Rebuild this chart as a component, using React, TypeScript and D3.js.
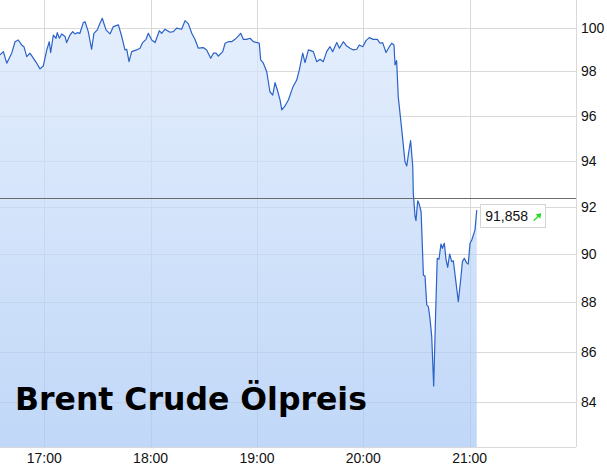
import * as d3 from 'd3';

// price samples, minutes after 16:00
const minutesAfter16 = [
  35.0, 36.9, 38.8, 41.6, 43.5, 45.3, 47.2, 48.5, 50.1, 51.9, 53.8, 55.7, 57.6, 59.4, 61.4, 62.8,
  63.6, 65.1, 66.6, 67.3, 68.5, 69.8, 71.7, 72.6, 74.5, 76.0, 77.3, 78.6, 80.1, 82.0, 83.0, 84.8,
  86.7, 88.0, 89.9, 91.0, 92.7, 94.8, 97.1, 98.9, 101.8, 103.7, 105.5, 106.5, 107.8, 109.3, 112.1, 114.0,
  115.5, 117.4, 118.7, 120.6, 122.5, 124.9, 126.2, 128.1, 130.9, 132.8, 134.7, 137.5, 139.4, 141.3, 143.2, 145.0,
  146.9, 149.7, 151.6, 153.9, 155.4, 156.9, 158.2, 160.7, 162.0, 163.8, 165.7, 167.6, 168.9, 170.8, 172.3, 174.2,
  176.1, 177.9, 180.2, 181.3, 182.1, 183.6, 185.5, 187.3, 188.9, 190.2, 191.5, 193.0, 194.0, 195.8, 197.7, 200.2,
  202.4, 203.9, 205.8, 207.1, 209.0, 211.8, 213.7, 215.6, 217.4, 219.3, 221.2, 222.7, 225.0, 226.5, 228.7, 230.6,
  232.5, 234.4, 236.3, 237.7, 239.7, 241.5, 243.4, 245.6, 247.9, 249.4, 250.9, 252.8, 254.7, 256.0, 257.3, 257.9,
  258.8, 259.7, 261.7, 263.5, 264.5, 265.8, 266.7, 267.9, 268.2, 269.2, 269.7, 270.7, 271.4, 272.6, 273.9, 274.8,
  275.8, 276.7, 277.6, 278.6, 279.7, 280.8, 281.7, 282.7, 283.8, 284.6, 285.7, 286.7, 287.6, 288.7, 289.9, 290.8,
  292.1, 293.6, 295.1, 295.9, 297.0, 298.3, 299.2, 300.2, 301.2, 302.1, 303.0, 304.0,
];
const prices = [
  98.75, 98.90, 98.37, 98.83, 99.36, 99.44, 99.21, 99.13, 98.67, 98.83, 98.60, 98.37, 98.11, 98.24, 98.98, 99.36,
  98.86, 99.67, 99.52, 99.78, 99.52, 99.72, 99.60, 99.32, 99.67, 99.83, 99.72, 99.78, 99.75, 100.25, 100.29, 99.83,
  99.01, 99.75, 99.91, 100.14, 100.45, 99.91, 99.72, 100.06, 100.14, 99.60, 98.98, 99.01, 98.44, 98.90, 98.98, 99.06,
  99.32, 99.47, 99.75, 99.44, 99.32, 99.87, 99.75, 99.94, 99.80, 99.83, 99.99, 99.94, 100.34, 100.19, 99.75, 99.47,
  99.06, 99.09, 98.98, 98.60, 98.83, 98.83, 98.70, 98.90, 99.29, 99.36, 99.36, 99.47, 99.57, 99.75, 99.47, 99.47,
  99.52, 99.36, 99.32, 99.29, 98.52, 98.37, 97.98, 97.07, 96.92, 97.48, 97.15, 96.70, 96.25, 96.43, 96.70, 97.27,
  97.60, 98.06, 98.83, 98.40, 98.98, 98.90, 98.44, 98.55, 98.44, 98.90, 99.13, 98.90, 99.32, 99.06, 99.36, 99.16,
  99.06, 98.98, 99.01, 99.21, 99.13, 99.41, 99.55, 99.47, 99.47, 99.29, 99.32, 98.86, 99.13, 99.29, 99.21, 98.29,
  98.49, 96.85, 95.36, 93.96, 93.77, 94.47, 94.88, 93.74, 92.58, 91.58, 91.41, 92.26, 92.15, 91.79, 89.12, 89.08,
  87.89, 87.82, 87.34, 86.60, 84.63, 87.55, 89.82, 89.78, 90.42, 90.24, 90.45, 89.75, 89.44, 90.00, 89.68, 89.72,
  88.92, 88.02, 89.05, 89.68, 89.82, 89.63, 89.58, 90.45, 90.59, 90.80, 91.01, 91.858,
];
const hourLabels = ['17:00', '18:00', '19:00', '20:00', '21:00'];
const priceTicks = [84, 86, 88, 90, 92, 94, 96, 98, 100];
const previousClose = 92.4;
const title = 'Brent Crude Ölpreis';

const W = 607;
const H = 472;
const plotW = 576;
const plotH = 447;
const gridColor = '#d9d9d9';
const lineColor = '#2a62c8';
const labelFont = '"Liberation Sans", Arial, sans-serif';

const de = d3.formatLocale({ decimal: ',', thousands: '.', grouping: [3], currency: ['', ' €'] });
const fmtPrice = de.format('.3f');

export default function App() {
  const day = new Date(2022, 2, 9, 16, 0, 0);
  const toDate = (m: number) => new Date(day.getTime() + m * 60000);
  const parseHour = (s: string) => {
    const [h, mm] = s.split(':').map(Number);
    return toDate((h - 16) * 60 + mm);
  };

  const x = d3.scaleTime().domain([toDate(35), toDate(360)]).range([0, plotW]);
  const y = d3.scaleLog().domain([82.26, 101.31]).range([plotH, 0]);

  const points = minutesAfter16.map((m, i) => ({ t: toDate(m), v: prices[i] }));
  type P = (typeof points)[number];

  const line = d3.line<P>().x(d => x(d.t)).y(d => y(d.v));
  const area = d3.area<P>().x(d => x(d.t)).y0(plotH).y1(d => y(d.v));

  const last = points[points.length - 1];
  const lx = x(last.t);
  const ly = y(last.v);
  const boxX = lx + 3.5;
  const boxY = ly - 6;
  const boxW = 65;
  const boxH = 23;

  return (
    <svg
      width={W}
      height={H}
      style={{ position: 'absolute', left: 0, top: 0, background: '#fff' }}
    >
      <defs>
        <linearGradient id="fillGrad" gradientUnits="userSpaceOnUse" x1={0} y1={0} x2={0} y2={plotH}>
          <stop offset="0%" stopColor="#dce9fc" />
          <stop offset="100%" stopColor="#a8c8f5" />
        </linearGradient>
      </defs>

      {/* grid */}
      {priceTicks.map(p => (
        <line key={p} x1={0} x2={plotW} y1={Math.round(y(p)) + 0.5} y2={Math.round(y(p)) + 0.5} stroke={gridColor} />
      ))}
      {hourLabels.map(h => (
        <line key={h} x1={Math.round(x(parseHour(h))) + 0.5} x2={Math.round(x(parseHour(h))) + 0.5} y1={0} y2={plotH} stroke={gridColor} />
      ))}

      <path d={area(points) ?? ''} fill="url(#fillGrad)" opacity={0.72} />
      <path d={line(points) ?? ''} fill="none" stroke={lineColor} strokeWidth={1.2} strokeLinejoin="round" />

      {/* previous close */}
      <line x1={0} x2={plotW} y1={Math.round(y(previousClose)) + 0.5} y2={Math.round(y(previousClose)) + 0.5} stroke="#6b6b6b" />

      {/* frame */}
      <line x1={plotW + 0.5} x2={plotW + 0.5} y1={0} y2={plotH} stroke={gridColor} />
      <line x1={0} x2={plotW} y1={plotH + 0.5} y2={plotH + 0.5} stroke={gridColor} />

      {/* axes labels */}
      {priceTicks.map(p => (
        <text key={p} x={581} y={y(p) + 5} fontSize={14} fontFamily={labelFont} fill="#111">
          {p}
        </text>
      ))}
      {hourLabels.map(h => (
        <text key={h} x={x(parseHour(h))} y={463} fontSize={14} fontFamily={labelFont} fill="#111" textAnchor="middle">
          {h}
        </text>
      ))}

      <text x={15} y={410} fontSize={31.5} fontWeight="bold" fontFamily='"DejaVu Sans", sans-serif' fill="#000">
        {title}
      </text>

      {/* last price badge */}
      <rect x={Math.round(boxX) + 0.5} y={Math.round(boxY) + 0.5} width={boxW} height={boxH} fill="#fff" stroke="#d4d4d4" />
      <text x={boxX + 5} y={boxY + 17} fontSize={14} fontFamily={labelFont} fill="#111">
        {fmtPrice(last.v)}
      </text>
      <g stroke="#22dd22" fill="#22dd22">
        <line x1={boxX + 53.5} y1={boxY + 16.5} x2={boxX + 59.5} y2={boxY + 10.5} strokeWidth={1.3} />
        <path d={`M${boxX + 61} ${boxY + 9} l-5.5 1 l4.5 4.5 z`} stroke="none" />
      </g>
    </svg>
  );
}
